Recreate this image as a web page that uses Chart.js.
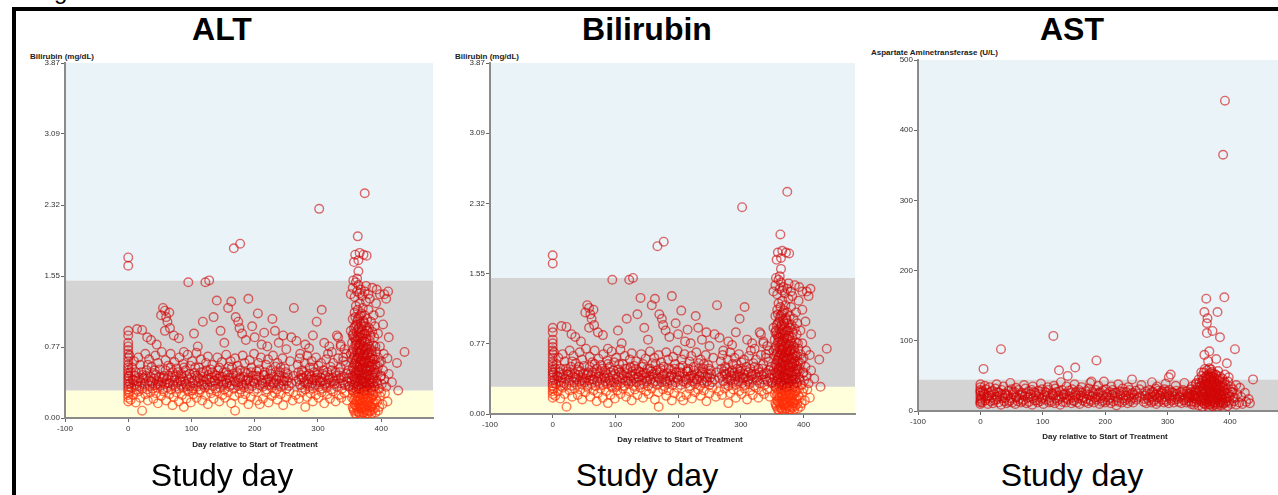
<!DOCTYPE html>
<html>
<head>
<meta charset="utf-8">
<script src="https://cdn.jsdelivr.net/npm/chart.js@4.4.1/dist/chart.umd.min.js"></script>
<style>
  html, body { margin: 0; padding: 0; background: #fff; width: 1278px; height: 495px; overflow: hidden; }
  body { position: relative; font-family: "Liberation Sans", Arial, sans-serif; }
  .frame { position: absolute; left: 12px; top: 7px; width: 1320px; height: 600px; border: 4px solid #000; box-sizing: border-box; }
  .t { position: absolute; white-space: nowrap; line-height: 1; }
  .title { font-size: 32px; font-weight: bold; color: #000; transform: translateX(-50%); }
  .foot { font-size: 32px; color: #000; transform: translateX(-50%); }
  .ylab { font-size: 8px; font-weight: bold; color: #222; }
  .xlab { font-size: 8px; font-weight: bold; color: #222; transform: translateX(-50%); }
  canvas { position: absolute; }
</style>
</head>
<body>
<div class="t" style="left:54px; top:-21px; font-size:24px;">g</div>
<div class="frame"></div>

<div class="t title" style="left:222px; top:13px;">ALT</div>
<div class="t title" style="left:647px; top:13px;">Bilirubin</div>
<div class="t title" style="left:1072px; top:13px;">AST</div>

<div class="t ylab" style="left:30px; top:53px;">Bilirubin (mg/dL)</div>
<div class="t ylab" style="left:455px; top:53px;">Bilirubin (mg/dL)</div>
<div class="t ylab" style="left:871px; top:49px;">Aspartate Aminetransferase (U/L)</div>

<canvas id="altChart" style="left:20px; top:40px;" width="430" height="420"></canvas>
<canvas id="biliChart" style="left:445px; top:40px;" width="430" height="416"></canvas>
<canvas id="astChart" style="left:873px; top:40px;" width="427" height="413"></canvas>

<div class="t xlab" style="left:255px; top:441px;">Day relative to Start of Treatment</div>
<div class="t xlab" style="left:680px; top:436px;">Day relative to Start of Treatment</div>
<div class="t xlab" style="left:1105px; top:433px;">Day relative to Start of Treatment</div>

<div class="t foot" style="left:222px; top:459px;">Study day</div>
<div class="t foot" style="left:647px; top:459px;">Study day</div>
<div class="t foot" style="left:1072px; top:459px;">Study day</div>

<script>
// axis ticks
const dayTicks = [-100, 0, 100, 200, 300, 400];
const biliTickValues = [0, 0.774, 1.548, 2.322, 3.096, 3.87];
const biliTickLabels = ['0.00', '0.77', '1.55', '2.32', '3.09', '3.87'];
const astTickValues = [0, 100, 200, 300, 400, 500];
const astTickLabels = ['0', '100', '200', '300', '400', '500'];

// reference bands (lower / upper limits)
const biliLow = 0.3;
const biliHigh = 1.5;
const astHigh = 45;

// [day, bilirubin mg/dL] (the Bilirubin panel shows the same plot)
const altPoints = [
  [0,1.75],[0,1.66],[0,0.95],[0,0.9],[0,0.82],[0,0.78],[0,0.74],[0,0.7],[0,0.66],[0,0.62],[0,0.58],[0,0.55],
  [0,0.52],[0,0.49],[0,0.46],[0,0.43],[0,0.4],[0,0.37],[0,0.34],[0,0.31],[0,0.28],[0,0.25],[0,0.22],[0,0.18],
  // sparse upper points
  [14,0.97],[22,0.96],[30,0.88],[36,0.85],[45,0.8],[52,1.12],[55,1.2],[58,1.17],[60,1.1],[62,1.05],[58,0.95],
  [65,1.15],[66,0.98],[72,0.9],[80,0.87],[88,0.72],[95,1.48],[104,0.92],[110,0.78],[122,1.48],[128,1.5],
  [118,1.05],[135,1.1],[140,1.28],[146,0.95],[152,0.82],[158,1.2],[163,1.27],[167,1.85],[177,1.9],[170,1.1],
  [174,1.05],[176,0.98],[180,0.92],[186,0.85],[190,1.3],[196,1.0],[200,0.88],[205,1.14],[211,0.8],[215,0.93],
  [220,0.78],[228,1.08],[232,0.95],[238,0.82],[245,0.9],[250,0.75],[258,0.88],[262,1.2],[266,0.84],[272,0.7],
  [280,0.8],[286,0.76],[292,0.9],[298,1.05],[302,2.28],[306,1.18],[310,0.82],[318,0.78],[322,0.72],[330,0.9],
  [336,0.8],[342,0.75],
  // 0.45 - 0.7
  [2,0.68],[6,0.55],[9,0.62],[12,0.5],[16,0.66],[19,0.58],[23,0.47],[27,0.7],[29,0.52],[33,0.64],[37,0.56],
  [40,0.49],[43,0.68],[47,0.6],[50,0.53],[53,0.72],[56,0.46],[59,0.63],[63,0.57],[67,0.7],[70,0.5],[73,0.61],
  [77,0.54],[81,0.66],[84,0.48],[87,0.59],[91,0.52],[94,0.69],[98,0.57],[101,0.62],[105,0.49],[108,0.71],
  [112,0.55],[115,0.64],[119,0.5],[123,0.6],[126,0.67],[130,0.53],[133,0.58],[137,0.47],[141,0.66],[144,0.55],
  [148,0.61],[151,0.5],[155,0.69],[159,0.56],[162,0.62],[166,0.48],[169,0.65],[173,0.57],[177,0.52],[181,0.68],
  [184,0.6],[188,0.49],[192,0.63],[195,0.55],[199,0.7],[203,0.51],[206,0.6],[210,0.66],[214,0.47],[218,0.58],
  [221,0.64],[225,0.52],[229,0.68],[233,0.56],[236,0.6],[240,0.5],[244,0.65],[248,0.54],[252,0.48],[256,0.62],
  [268,0.58],[271,0.65],[275,0.52],[279,0.6],[283,0.68],[287,0.55],[290,0.62],[294,0.5],[297,0.66],[301,0.57],
  [305,0.6],[309,0.52],[313,0.64],[316,0.7],[320,0.56],[324,0.6],[328,0.5],[332,0.65],[336,0.55],[340,0.62],
  [344,0.58],[348,0.52],
  // 0.3 - 0.48, densest part
  [1,0.45],[3,0.38],[5,0.33],[7,0.42],[10,0.36],[11,0.46],[13,0.31],[15,0.4],[17,0.44],[18,0.34],[20,0.39],
  [22,0.32],[24,0.43],[26,0.37],[28,0.46],[30,0.31],[32,0.41],[34,0.35],[35,0.45],[38,0.38],[39,0.32],[41,0.43],
  [43,0.36],[44,0.47],[46,0.33],[48,0.4],[49,0.45],[51,0.35],[53,0.39],[55,0.31],[57,0.44],[58,0.37],[61,0.42],
  [62,0.33],[64,0.46],[66,0.38],[68,0.31],[69,0.44],[71,0.36],[73,0.41],[75,0.34],[76,0.47],[78,0.39],[80,0.32],
  [82,0.43],[84,0.36],[85,0.45],[87,0.33],[89,0.4],[91,0.37],[92,0.46],[94,0.31],[96,0.42],[98,0.35],[100,0.44],
  [102,0.38],[103,0.32],[105,0.41],[107,0.46],[109,0.34],[111,0.39],[113,0.43],[114,0.31],[116,0.37],[118,0.45],
  [120,0.4],[121,0.33],[124,0.42],[125,0.36],[127,0.47],[129,0.31],[131,0.39],[132,0.44],[134,0.35],[136,0.41],
  [138,0.32],[139,0.46],[142,0.37],[143,0.43],[145,0.33],[147,0.4],[149,0.45],[150,0.36],[152,0.31],[154,0.42],
  [156,0.38],[157,0.47],[160,0.34],[161,0.41],[164,0.36],[165,0.44],[167,0.32],[170,0.39],[171,0.46],[174,0.35],
  [175,0.42],[178,0.31],[179,0.38],[182,0.45],[183,0.33],[186,0.41],[187,0.37],[190,0.44],[191,0.32],[193,0.4],
  [196,0.35],[197,0.46],[200,0.38],[202,0.42],[204,0.32],[207,0.45],[208,0.36],[211,0.41],[213,0.34],[215,0.47],
  [217,0.39],[219,0.31],[222,0.43],[223,0.36],[226,0.4],[227,0.33],[230,0.45],[231,0.38],[234,0.42],[235,0.31],
  [238,0.37],[239,0.46],[242,0.34],[243,0.41],[246,0.36],[247,0.44],[250,0.32],[251,0.4],[254,0.35],[270,0.42],
  [272,0.36],[273,0.47],[275,0.33],[277,0.44],[278,0.39],[280,0.31],[282,0.46],[284,0.37],[285,0.42],[287,0.34],
  [289,0.45],[291,0.38],[292,0.32],[294,0.43],[296,0.36],[298,0.41],[299,0.47],[302,0.34],[303,0.39],[305,0.44],
  [307,0.32],[308,0.4],[311,0.36],[312,0.46],[314,0.33],[317,0.42],[319,0.38],[321,0.31],[323,0.44],[326,0.37],
  [327,0.41],[330,0.34],[333,0.43],[335,0.38],[338,0.32],[341,0.45],[343,0.36],[346,0.4],[349,0.34],
  [4,0.5],[9,0.41],[14,0.35],[21,0.5],[25,0.44],[31,0.58],[36,0.4],[42,0.52],[47,0.37],[54,0.43],[59,0.52],
  [63,0.38],[67,0.55],[74,0.45],[79,0.5],[83,0.4],[88,0.55],[93,0.35],[97,0.48],[101,0.3],[106,0.55],[110,0.44],
  [115,0.5],[119,0.36],[124,0.52],[128,0.42],[133,0.5],[137,0.4],[142,0.52],[146,0.45],[151,0.38],[155,0.5],
  [160,0.44],[164,0.55],[168,0.4],[172,0.5],[177,0.44],[181,0.36],[185,0.5],[189,0.42],[194,0.5],[198,0.4],
  [203,0.46],[207,0.53],[212,0.38],[216,0.5],[220,0.42],[225,0.48],[229,0.38],[233,0.5],[237,0.44],[241,0.55],
  [246,0.4],[249,0.5],[253,0.44],[258,0.38],[262,0.46],[266,0.4],[269,0.5],[274,0.44],[278,0.5],[281,0.38],
  [286,0.48],[290,0.42],[293,0.55],[297,0.44],[300,0.5],[304,0.4],[308,0.48],[312,0.38],[315,0.5],[318,0.44],
  [322,0.52],[325,0.4],[329,0.46],[334,0.5],[337,0.44],[341,0.38],[345,0.48],[348,0.44],
  // below the lower limit
  [2,0.28],[4,0.2],[8,0.25],[12,0.17],[16,0.29],[19,0.22],[22,0.08],[27,0.26],[31,0.19],[35,0.28],[40,0.21],
  [44,0.27],[47,0.16],[52,0.24],[56,0.29],[60,0.19],[65,0.26],[70,0.14],[72,0.23],[76,0.28],[80,0.18],[85,0.25],
  [88,0.12],[92,0.21],[95,0.29],[99,0.17],[103,0.26],[108,0.22],[112,0.28],[117,0.19],[122,0.25],[126,0.15],
  [131,0.27],[135,0.21],[140,0.29],[144,0.18],[149,0.25],[153,0.22],[158,0.28],[163,0.16],[168,0.24],[169,0.08],
  [176,0.27],[181,0.2],[185,0.26],[190,0.15],[194,0.23],[199,0.29],[204,0.19],[208,0.15],[213,0.21],[218,0.28],
  [222,0.17],[227,0.24],[232,0.27],[236,0.2],[241,0.26],[245,0.14],[250,0.23],[255,0.29],[260,0.19],[265,0.25],
  [270,0.21],[274,0.28],[280,0.12],[283,0.23],[288,0.27],[292,0.18],[297,0.25],[301,0.22],[306,0.28],[310,0.16],
  [315,0.26],[319,0.21],[324,0.29],[328,0.18],[333,0.25],[337,0.22],[342,0.27],[346,0.19],
  // one-year visit cluster
  [354,0.22],[356,0.1],[357,0.28],[358,0.15],[359,0.05],[360,0.24],[361,0.12],[362,0.19],[363,0.07],[364,0.27],
  [365,0.14],[366,0.04],[367,0.21],[368,0.1],[369,0.26],[370,0.16],[371,0.06],[372,0.23],[373,0.13],[374,0.29],
  [375,0.09],[376,0.2],[377,0.05],[378,0.25],[379,0.14],[380,0.18],[381,0.08],[382,0.27],[383,0.12],[384,0.22],
  [386,0.16],[388,0.26],[390,0.11],[392,0.2],[395,0.08],[398,0.24],[402,0.15],[406,0.27],[410,0.18],[385,0.05],
  [366,0.19],[371,0.29],
  [350,0.35],[352,0.48],[353,0.4],[355,0.55],[356,0.33],[357,0.45],[358,0.59],[359,0.38],[360,0.5],[361,0.31],
  [362,0.43],[363,0.56],[364,0.36],[365,0.47],[366,0.58],[367,0.32],[368,0.41],[369,0.53],[370,0.37],[371,0.49],
  [372,0.6],[373,0.34],[374,0.44],[375,0.55],[376,0.39],[377,0.51],[378,0.31],[379,0.46],[380,0.57],[381,0.36],
  [382,0.42],[383,0.52],[384,0.33],[385,0.47],[386,0.58],[387,0.38],[388,0.44],[389,0.53],[390,0.35],[391,0.49],
  [393,0.4],[395,0.56],[397,0.32],[399,0.45],[401,0.37],[403,0.52],[405,0.42],[408,0.34],[412,0.48],[417,0.39],
  [427,0.3],[358,0.42],[364,0.52],[370,0.44],[376,0.48],[382,0.56],[361,0.58],[367,0.5],[373,0.4],
  [352,0.7],[354,0.82],[355,0.64],[356,0.75],[357,0.88],[358,0.68],[359,0.79],[360,0.62],[361,0.73],[362,0.85],
  [363,0.66],[364,0.77],[365,0.9],[366,0.7],[367,0.81],[368,0.63],[369,0.74],[370,0.86],[371,0.67],[372,0.78],
  [373,0.61],[374,0.72],[375,0.83],[376,0.65],[377,0.76],[378,0.69],[379,0.8],[380,0.63],[381,0.71],[382,0.84],
  [383,0.66],[384,0.75],[386,0.68],[388,0.79],[390,0.64],[392,0.72],[395,0.66],[398,0.78],[400,0.62],[404,0.7],
  [410,0.65],[412,0.88],[425,0.6],[437,0.72],[345,0.7],[340,0.66],[332,0.88],[336,0.78],[366,0.74],[372,0.7],
  [360,0.84],
  [352,0.95],[355,1.08],[356,0.92],[358,1.15],[359,1.0],[360,1.22],[361,0.94],[362,1.05],[363,1.18],[364,0.97],
  [365,1.1],[366,1.25],[367,0.93],[368,1.03],[369,1.14],[370,0.96],[371,1.2],[372,1.06],[373,0.92],[374,1.12],
  [375,1.0],[376,1.27],[377,0.95],[378,1.08],[380,1.18],[381,0.98],[382,1.3],[384,1.05],[386,0.94],[388,1.12],
  [390,1.0],[392,1.25],[395,0.92],[398,1.15],[403,1.02],[408,1.3],[411,1.38],[405,1.35],[398,1.35],[393,1.4],
  [352,1.35],[355,1.42],[358,1.32],[360,1.48],[362,1.38],[364,1.45],[366,1.36],[368,1.4],[370,1.33],[374,1.38],
  [376,1.44],[380,1.35],[386,1.42],[356,1.5],[362,1.52],[364,1.6],[357,1.7],[364,1.72],[359,1.78],[366,1.8],
  [372,1.78],[377,1.77],[363,1.98],[374,2.45],
  [355,0.12],[355,0.3],[355,0.46],[355,0.72],[355,0.9],[357,0.08],[357,0.2],[357,0.36],[357,0.52],[357,0.66],
  [357,0.98],[359,0.14],[359,0.27],[359,0.44],[359,0.6],[359,0.86],[359,1.1],[361,0.04],[361,0.18],[361,0.34],
  [361,0.48],[361,0.64],[361,0.8],[361,1.02],[363,0.1],[363,0.24],[363,0.4],[363,0.5],[363,0.71],[363,0.88],
  [363,1.08],[365,0.06],[365,0.2],[365,0.32],[365,0.55],[365,0.66],[365,0.8],[365,0.99],[367,0.12],[367,0.26],
  [367,0.42],[367,0.6],[367,0.72],[367,0.88],[367,1.12],[369,0.03],[369,0.16],[369,0.34],[369,0.46],[369,0.62],
  [369,0.83],[369,1.0],[371,0.1],[371,0.22],[371,0.4],[371,0.55],[371,0.76],[371,0.9],[373,0.06],[373,0.18],
  [373,0.3],[373,0.48],[373,0.68],[373,0.84],[373,1.04],[375,0.12],[375,0.27],[375,0.38],[375,0.62],[375,0.74],
  [375,0.92],[377,0.08],[377,0.17],[377,0.34],[377,0.45],[377,0.6],[377,0.86],[379,0.05],[379,0.22],[379,0.36],
  [379,0.52],[379,0.7],[379,0.95],[381,0.14],[381,0.28],[381,0.46],[381,0.6],[381,0.78],[383,0.07],[383,0.2],
  [383,0.38],[383,0.62],[383,0.9],[385,0.12],[385,0.3],[385,0.4],[385,0.56],[385,0.73],[387,0.09],[387,0.24],
  [387,0.5],[387,0.64],[389,0.16],[389,0.34],[389,0.46],[389,0.88],[391,0.06],[391,0.28],[391,0.58],[391,0.78],
  [394,0.18],[394,0.38],[394,0.5],[397,0.12],[397,0.6],[400,0.28],[400,0.46]
];
const bilirubinPoints = altPoints;

// [day, AST U/L]
const astPoints = [
  [0,38],[0,34],[0,30],[0,26],[0,22],[0,18],[0,14],[0,10],[0,12],[0,28],
  [3,12],[8,15],[12,10],[16,14],[20,11],[25,16],[29,12],[33,9],[38,14],[42,11],[47,15],[51,12],[56,10],[60,14],
  [65,12],[69,16],[74,11],[78,13],[83,9],[87,15],[92,12],[96,14],[101,10],[105,16],[110,12],[114,13],[119,11],
  [123,15],[128,9],[132,13],[137,12],[141,16],[146,11],[150,14],[155,12],[159,10],[164,15],[168,13],[173,11],
  [177,14],[182,12],[186,16],[191,10],[195,13],[200,12],[204,15],[209,11],[213,14],[218,8],[222,13],[227,12],
  [231,15],[236,11],[240,14],[245,12],[250,16],[262,13],[266,11],[270,15],[274,12],[278,14],[282,10],[286,13],
  [290,16],[294,12],[298,14],[302,11],[306,15],[310,12],[318,13],[322,11],[326,15],[330,12],[334,14],[338,10],
  [342,13],[346,16],
  [2,20],[6,23],[10,18],[14,22],[18,19],[22,24],[27,17],[31,21],[35,23],[40,19],[44,22],[49,18],[53,24],[58,20],
  [62,17],[67,23],[71,21],[76,19],[80,24],[85,18],[89,22],[94,20],[98,17],[103,23],[107,21],[112,19],[116,24],
  [121,18],[125,22],[130,20],[134,23],[139,17],[143,21],[148,19],[152,24],[157,18],[161,22],[166,20],[170,17],
  [175,23],[179,21],[184,19],[188,24],[193,18],[197,22],[202,20],[206,17],[211,23],[215,21],[220,19],[224,24],
  [229,18],[233,22],[238,20],[242,17],[247,23],[252,19],[256,21],[264,22],[268,18],[272,24],[276,20],[280,23],
  [284,19],[288,22],[292,25],[296,20],[300,23],[304,18],[308,22],[312,20],[316,17],[320,21],[324,24],[328,19],
  [332,22],[336,20],[340,23],[344,18],[348,21],
  [1,16],[5,25],[11,21],[17,27],[21,15],[26,20],[30,26],[36,18],[41,24],[46,13],[52,27],[57,19],[63,23],[68,14],
  [73,25],[79,20],[86,27],[90,15],[95,24],[100,19],[106,26],[111,15],[117,22],[122,27],[127,17],[133,24],[138,19],
  [144,26],[149,15],[154,22],[160,27],[165,18],[171,24],[176,16],[181,25],[187,20],[192,27],[197,15],[203,24],
  [208,19],[214,26],[219,15],[225,22],[230,27],[235,17],[241,24],[246,19],[251,25],[263,17],[267,25],[271,20],
  [275,27],[279,16],[283,24],[287,19],[291,28],[295,16],[299,25],[303,21],[307,27],[311,16],[315,24],[319,19],
  [323,27],[327,16],[331,25],[335,18],[339,27],[343,21],
  [4,28],[9,31],[13,26],[19,29],[24,32],[28,27],[34,30],[39,25],[45,29],[50,31],[55,27],[61,30],[66,26],[72,32],
  [77,28],[82,30],[88,26],[93,29],[99,31],[104,27],[109,30],[115,26],[120,32],[126,28],[131,30],[136,25],[142,29],
  [147,31],[153,27],[158,30],[163,26],[169,28],[174,32],[180,27],[185,30],[190,26],[196,29],[201,31],[207,27],
  [212,30],[217,26],[223,28],[228,32],[234,27],[239,30],[244,26],[249,29],[255,31],[265,28],[271,30],[277,27],
  [281,32],[285,29],[289,26],[295,31],[299,28],[303,30],[309,26],[314,29],[320,27],[325,30],[331,28],[337,31],
  [343,27],[347,30],
  [7,36],[15,34],[26,38],[37,35],[48,40],[57,33],[70,37],[84,35],[97,39],[108,34],[118,36],[129,41],[138,35],
  [151,38],[162,34],[176,40],[189,36],[198,42],[210,35],[221,38],[237,34],[243,45],[258,37],[275,41],[283,35],
  [297,39],[302,48],[305,52],[313,36],[327,40],[339,35],[345,38],
  [5,60],[33,88],[117,107],[126,58],[140,50],[152,62],[186,72],[178,42],
  // one-year visit cluster
  [346,12],[350,8],[353,14],[356,6],[358,11],[360,15],[362,9],[364,13],[366,5],[368,10],[370,14],[372,7],
  [374,12],[376,9],[378,15],[380,6],[382,11],[384,13],[386,8],[388,14],[390,10],[393,12],[396,7],[399,13],
  [402,10],[406,14],[410,9],[415,12],[420,10],[426,13],[432,11],[338,13],[342,9],
  [340,22],[344,18],[347,26],[350,20],[352,28],[354,17],[356,24],[358,29],[359,19],[361,27],[363,21],[365,30],
  [366,17],[368,25],[370,20],[371,28],[373,18],[375,26],[377,22],[379,29],[381,19],[383,24],[385,27],[387,20],
  [389,23],[391,28],[394,18],[397,25],[400,21],[404,27],[408,19],[412,24],[418,20],[424,26],[430,17],[335,25],
  [333,20],
  [348,34],[351,40],[354,36],[356,43],[358,32],[360,38],[362,45],[364,35],[366,41],[368,33],[370,44],[372,37],
  [374,42],[376,34],[378,39],[380,31],[382,43],[384,36],[387,40],[390,33],[393,38],[397,42],[401,35],[405,31],
  [410,37],[416,33],[346,40],
  [355,50],[358,55],[361,48],[363,58],[365,52],[367,61],[369,49],[371,56],[373,53],[375,47],[378,51],[381,57],
  [384,49],[388,46],[392,52],[398,48],[360,60],[370,59],
  [355,15],[355,28],[355,40],[357,20],[357,33],[357,46],[359,10],[359,24],[359,37],[361,16],[361,30],[361,42],
  [363,12],[363,26],[363,38],[363,50],[365,19],[365,35],[365,45],[367,9],[367,22],[367,31],[367,48],[369,14],
  [369,27],[369,40],[369,54],[371,18],[371,35],[371,46],[373,11],[373,25],[373,38],[373,49],[375,16],[375,31],
  [375,42],[377,12],[377,27],[377,36],[377,52],[379,20],[379,34],[379,44],[381,9],[381,24],[381,38],[383,16],
  [383,30],[383,46],[385,12],[385,22],[385,34],[387,17],[387,28],[389,11],[389,36],[391,19],[391,42],[393,25],
  [395,14],[395,32],[398,20],[402,27],[406,18],[345,30],[343,22],[350,45],[352,35],[354,55],
  [362,160],[391,162],[359,141],[380,141],[364,132],[363,125],[372,114],[363,111],[384,105],[408,88],[367,85],
  [359,80],[378,74],[365,71],[395,68],[437,45],[392,442],[389,365]
];

const RED = 'rgba(210, 6, 6, 0.6)';
const ORANGE = 'rgba(255, 48, 8, 0.65)';
const LIGHT_BLUE = '#e9f3f8';
const GRAY = '#d4d4d4';
const YELLOW = '#ffffdc';

// paints the reference ranges behind the points
const bandsPlugin = {
  id: 'bands',
  beforeDraw(chart, args, opts) {
    const { ctx, chartArea: a, scales: { y } } = chart;
    ctx.save();
    opts.bands.forEach(b => {
      const top = y.getPixelForValue(b.to);
      const bottom = y.getPixelForValue(b.from);
      ctx.fillStyle = b.color;
      ctx.fillRect(a.left, top, a.right - a.left, bottom - top);
    });
    ctx.restore();
  }
};

function makePanel(id, points, yMax, xMax, tickValues, tickLabels, bands, padding, lowLimit) {
  const ctx = document.getElementById(id);
  return new Chart(ctx, {
    type: 'scatter',
    data: {
      datasets: [{
        data: points.map(([x, y]) => ({ x, y })),
        pointStyle: 'circle',
        pointRadius: 4.3,
        pointBorderWidth: 1.4,
        backgroundColor: 'rgba(0,0,0,0)',
        borderColor: (c) => (c.raw && lowLimit != null && c.raw.y < lowLimit) ? ORANGE : RED,
      }]
    },
    options: {
      responsive: false,
      animation: false,
      events: [],
      layout: { padding: padding },
      scales: {
        x: {
          type: 'linear',
          min: -100,
          max: xMax,
          afterBuildTicks: (s) => { s.ticks = dayTicks.map(v => ({ value: v })); },
          afterFit: (s) => { s.height = 42; },
          grid: { display: true, drawOnChartArea: false, tickLength: 4, tickColor: '#666', tickWidth: 1 },
          border: { color: '#8a8a8a', width: 2 },
          ticks: {
            font: { family: 'Liberation Sans', size: 8 },
            color: '#333',
            padding: 2,
            maxRotation: 0,
            callback: (v) => String(v),
          },
        },
        y: {
          type: 'linear',
          min: 0,
          max: yMax,
          afterBuildTicks: (s) => { s.ticks = tickValues.map(v => ({ value: v })); },
          afterFit: (s) => { s.width = 45; },
          grid: { display: true, drawOnChartArea: false, tickLength: 4, tickColor: '#666', tickWidth: 1 },
          border: { color: '#8a8a8a', width: 2 },
          ticks: {
            font: { family: 'Liberation Sans', size: 8 },
            color: '#333',
            padding: 1,
            callback: (v, i) => tickLabels[i],
          },
        },
      },
      plugins: {
        legend: { display: false },
        tooltip: { enabled: false },
        bands: { bands: bands },
      },
    },
    plugins: [bandsPlugin],
  });
}

const biliBands = [
  { from: 0, to: biliLow, color: YELLOW },
  { from: biliLow, to: biliHigh, color: GRAY },
  { from: biliHigh, to: 3.87, color: LIGHT_BLUE },
];
const astBands = [
  { from: 0, to: astHigh, color: GRAY },
  { from: astHigh, to: 500, color: LIGHT_BLUE },
];

makePanel('altChart', altPoints, 3.87, 482, biliTickValues, biliTickLabels, biliBands,
  { top: 23, right: 17, left: 0, bottom: 0 }, biliLow);
makePanel('biliChart', bilirubinPoints, 3.87, 482, biliTickValues, biliTickLabels, biliBands,
  { top: 23, right: 20, left: 0, bottom: 0 }, biliLow);
makePanel('astChart', astPoints, 500, 477, astTickValues, astTickLabels, astBands,
  { top: 20, right: 22, left: 0, bottom: 0 }, null);
</script>
</body>
</html>
